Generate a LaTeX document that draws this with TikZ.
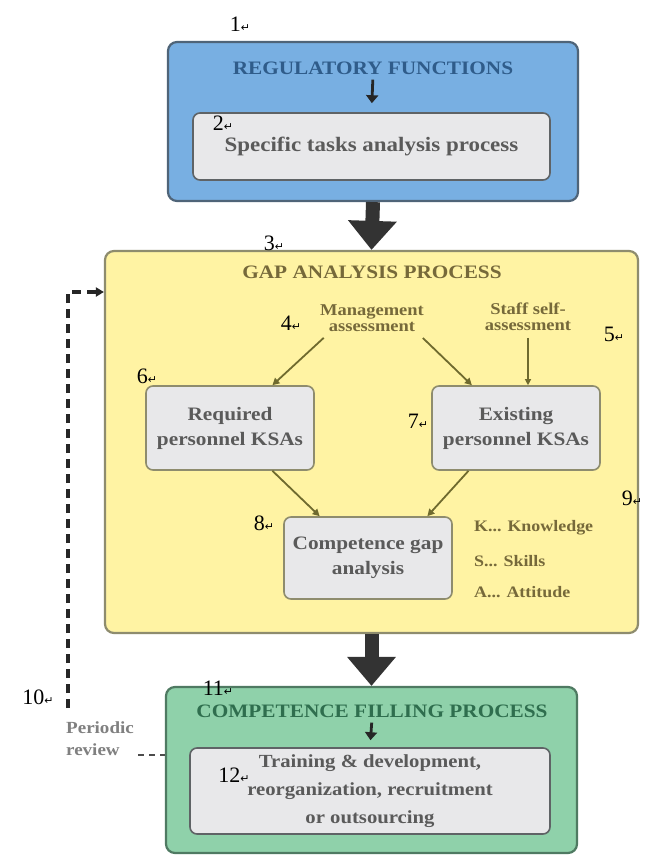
\documentclass[tikz,border=0pt]{standalone}
\usepackage{fontspec}
\setmainfont{Liberation Serif}
\newfontfamily\diag[FakeStretch=1.12]{Liberation Serif}
\newfontfamily\symfont{DejaVu Sans}
\usetikzlibrary{arrows.meta,calc}
\newcommand{\ret}{{\symfont\fontsize{11}{11}\selectfont ↵}}
\definecolor{regfill}{HTML}{78AFE2}
\definecolor{regline}{HTML}{4F6478}
\definecolor{regtext}{HTML}{2F5C8A}
\definecolor{grayfill}{HTML}{E8E8EA}
\definecolor{grayline}{HTML}{5F6366}
\definecolor{graytext}{HTML}{5A5A5A}
\definecolor{yelfill}{HTML}{FFF3A3}
\definecolor{yelline}{HTML}{8E8C6E}
\definecolor{yeltext}{HTML}{76693A}
\definecolor{yelarrow}{HTML}{6F6A2E}
\definecolor{grnfill}{HTML}{8FD1AA}
\definecolor{grnline}{HTML}{4F7A62}
\definecolor{grntext}{HTML}{2F6E4E}
\definecolor{bigarr}{HTML}{333333}
\tikzset{
  outerbox/.style={rounded corners=9pt, line width=2.2pt},
  innerbox/.style={rounded corners=7pt, line width=1.6pt, fill=grayfill, draw=grayline,
     text=graytext, font=\diag\bfseries\fontsize{20.5}{22}\selectfont, align=center},
  ksabox/.style={rounded corners=7pt, line width=1.6pt, fill=grayfill, draw=yelline,
     text=graytext, font=\diag\bfseries\fontsize{19}{25}\selectfont, align=center,
     minimum width=168pt},
  titletext/.style={font=\diag\bfseries\fontsize{19}{20}\selectfont, inner sep=1pt},
  asstext/.style={font=\diag\bfseries\fontsize{16.5}{15.5}\selectfont, text=yeltext, align=center, inner sep=1pt},
  legendtext/.style={font=\diag\bfseries\fontsize{16}{16}\selectfont, text=yeltext, anchor=west, inner sep=0pt},
  lbl/.style={font=\fontsize{22}{22}\selectfont, text=black, inner sep=0pt},
  bigarrow/.style={line width=14pt, draw=bigarr, -{Triangle[width=47pt,length=29pt]}},
  smallarrow/.style={line width=2.8pt, draw=black!85, -{Triangle[width=12pt,length=8pt]}},
  yarrow/.style={line width=1.8pt, draw=yelarrow, -{Triangle[width=7pt,length=7pt]}},
  reviewline/.style={line width=3.5pt, draw=black!85, dash pattern=on 9pt off 6pt},
}
\begin{document}
\begin{tikzpicture}[x=1pt,y=-1pt]
\useasboundingbox (0,0) rectangle (651,855);
\fill[white] (0,0) rectangle (651,855);

% ---------- regulatory functions ----------
\node[outerbox, fill=regfill, draw=regline, minimum width=410pt, minimum height=159pt] (reg) at (373,121.5) {};
\node[titletext, text=regtext] (regt) at (373,68) {REGULATORY FUNCTIONS};
\node[innerbox, minimum width=357pt, minimum height=67pt] (spec) at (371.5,146.5) {Specific tasks analysis process};
\draw[smallarrow, shorten <=4pt, shorten >=9pt] (regt.south) -- (spec.north);

% ---------- gap analysis ----------
\node[outerbox, fill=yelfill, draw=yelline, minimum width=533pt, minimum height=382pt] (gap) at (371.5,442) {};
\node[titletext, text=yeltext] (gapt) at (372,272) {GAP ANALYSIS PROCESS};
\node[asstext] (mgmt) at (372,318) {Management\\assessment};
\node[asstext] (staff) at (528,317) {Staff self-\\assessment};
\node[ksabox, minimum height=84pt] (req) at (230,428) {Required\\personnel KSAs};
\node[ksabox, minimum height=84pt] (exist) at (516,428) {Existing\\personnel KSAs};
\node[ksabox, minimum height=82pt] (cga) at (368,558) {Competence gap\\analysis};
\node[legendtext] (lk) at (474,528) {K... Knowledge};
\node[legendtext] (ls) at (474,561) {S... Skills};
\node[legendtext] (la) at (474,592) {A... Attitude};

\draw[yarrow, shorten <=8pt] ($(mgmt.south)!0.8!(mgmt.south west)$) -- ($(req.north)!0.5!(req.north east)$);
\draw[yarrow, shorten <=8pt] ($(mgmt.south)!0.85!(mgmt.south east)$) -- ($(exist.north west)!0.24!(exist.north east)$);
\draw[line width=1.2pt, draw=yelarrow, -{Triangle[width=6pt,length=6pt]}, shorten <=6pt] (staff.south) -- (staff.south |- exist.north);
\draw[yarrow] ($(req.south)!0.5!(req.south east)$) -- ($(cga.north west)!0.215!(cga.north east)$);
\draw[yarrow] ($(exist.south west)!0.22!(exist.south east)$) -- ($(cga.north west)!0.85!(cga.north east)$);

% ---------- competence filling ----------
\node[outerbox, fill=grnfill, draw=grnline, minimum width=411pt, minimum height=166pt] (fill) at (371.5,770) {};
\node[titletext, text=grntext] (fillt) at (372,711) {COMPETENCE FILLING PROCESS};
\node[innerbox, minimum width=360pt, minimum height=86pt, font=\diag\bfseries\fontsize{18.5}{28}\selectfont] (train) at (370,791) {Training \& development,\\reorganization, recruitment\\or outsourcing};
\draw[smallarrow, shorten <=4pt, shorten >=7pt] (fillt.south) -- (train.north);

% ---------- big arrows ----------
\draw[bigarrow] (reg.south) -- (gap.north);
\draw[bigarrow] (gap.south) -- (fill.north);

% ---------- periodic review ----------
\coordinate (c1) at (68,708);
\coordinate (c2) at (68,292);
\coordinate (c3) at (138,755);
\draw[reviewline, -{Triangle[width=9pt,length=8pt]}] (c1) -- (c2) -- (c2 -| gap.west);
\node[font=\diag\bfseries\fontsize{17}{22}\selectfont, text=black!50, align=left, inner sep=0pt] (pr) at (100,739) {Periodic\\review};
\draw[line width=2.5pt, draw=black!70, dash pattern=on 6pt off 5pt] (c3) -- (c3 -| fill.west);

% ---------- number labels ----------
\node[lbl] (n1) at (240,24) {1\ret};
\node[lbl] (n2) at (223,123) {2\ret};
\node[lbl] (n3) at (274,243) {3\ret};
\node[lbl] (n4) at (291,323) {4\ret};
\node[lbl] (n5) at (614,334) {5\ret};
\node[lbl] (n6) at (147,376) {6\ret};
\node[lbl] (n7) at (418,421) {7\ret};
\node[lbl] (n8) at (264,523) {8\ret};
\node[lbl] (n9) at (632,498) {9\ret};
\node[lbl] (n10) at (38,697) {10\ret};
\node[lbl] (n11) at (218,688) {11\ret};
\node[lbl] (n12) at (234,775) {12\ret};
\end{tikzpicture}
\end{document}
